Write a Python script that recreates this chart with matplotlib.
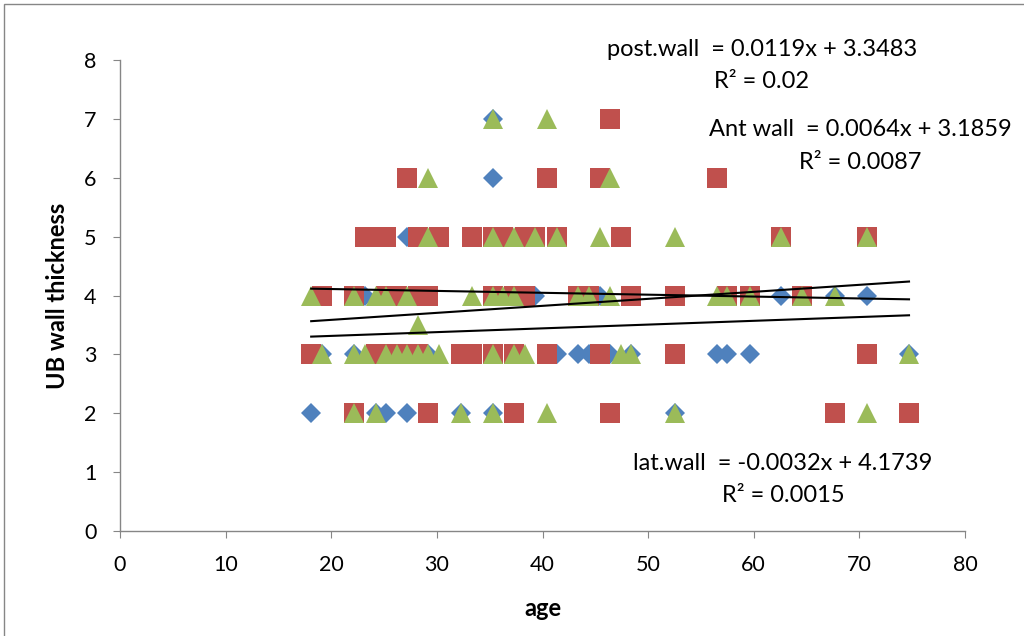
import matplotlib
matplotlib.use("Agg")
import matplotlib.pyplot as plt
from matplotlib.patches import Rectangle
import numpy as np

plt.rcParams['font.family'] = ['Lato', 'DejaVu Sans']

# ---- data ----
lat_x = [18.1, 24.2, 25.2, 27.2, 32.3, 35.3, 52.5,
         19.1, 22.2, 29.2, 41.4, 43.4, 44.4, 46.4, 48.4, 56.5, 57.5, 59.6, 74.7,
         23.2, 39.3, 45.4, 62.6, 67.7, 70.7,
         27.2, 35.3, 35.3]
lat_y = [2, 2, 2, 2, 2, 2, 2,
         3, 3, 3, 3, 3, 3, 3, 3, 3, 3, 3, 3,
         4, 4, 4, 4, 4, 4,
         5, 6, 7]

post_x = [22.2, 29.2, 37.3, 46.4, 67.7, 74.7,
          18.1, 24.2, 25.2, 26.2, 27.2, 28.2, 32.3, 33.3, 35.3, 37.3, 40.4, 45.4, 52.5, 70.7,
          19.1, 22.2, 25.2, 26.2, 28.2, 29.2, 35.3, 37.3, 38.3, 43.4, 44.4, 48.4, 52.5, 57.5, 59.6, 64.6,
          23.2, 24.2, 25.2, 28.2, 30.2, 33.3, 35.3, 36.3, 38.3, 39.3, 41.4, 47.4, 62.6, 70.7,
          27.2, 40.4, 45.4, 56.5,
          46.4]
post_y = [2] * 6 + [3] * 14 + [4] * 16 + [5] * 14 + [6] * 4 + [7]

ant_x = [22.2, 24.2, 32.3, 35.3, 40.4, 52.5, 70.7,
         19.1, 22.2, 23.2, 25.2, 26.2, 27.2, 28.2, 29.2, 30.2, 35.3, 37.3, 38.3, 47.4, 48.4, 74.7,
         28.2,
         18.1, 22.2, 24.2, 25.2, 27.2, 33.3, 35.3, 36.3, 37.3, 43.4, 44.4, 46.4, 56.5, 57.5, 59.6, 64.6, 67.7,
         29.2, 35.3, 37.3, 39.3, 41.4, 45.4, 52.5, 62.6, 70.7,
         29.2, 46.4,
         35.3, 40.4]
ant_y = [2] * 7 + [3] * 15 + [3.5] + [4] * 17 + [5] * 9 + [6] * 2 + [7] * 2

# trend line coefficients (slope, intercept) as given in the chart
post_fit = (0.0119, 3.3483)
ant_fit = (0.0064, 3.1859)
lat_fit = (-0.0032, 4.1739)
fit_range = (18.1, 74.7)

xticks = [0, 10, 20, 30, 40, 50, 60, 70, 80]
yticks = [0, 1, 2, 3, 4, 5, 6, 7, 8]

blue = '#4F81BD'
red = '#C0504D'
green = '#9BBB59'

fig = plt.figure(figsize=(10.24, 6.36), dpi=100)
ax = fig.add_axes([120 / 1024, 1 - 531 / 636, 845 / 1024, 471 / 636])

ax.plot(lat_x, lat_y, linestyle='none', marker='D', ms=10.5, color=blue,
        markeredgewidth=0, zorder=3)
ax.plot(post_x, post_y, linestyle='none', marker='s', ms=14, color=red,
        markeredgewidth=0, zorder=4)
ax.plot(ant_x, ant_y, linestyle='none', marker='^', ms=15, color=green,
        markeredgewidth=0, zorder=5)

xs = np.array(fit_range, dtype=float)
for m, b in (post_fit, ant_fit, lat_fit):
    ax.plot(xs, m * xs + b, color='black', lw=1.5, zorder=6)

ax.set_xlim(0, 80)
ax.set_ylim(0, 8)
ax.set_xticks(xticks)
ax.set_yticks(yticks)
ax.tick_params(labelsize=15.5, direction='out', length=5, color='#868686')
ax.tick_params(axis='y', pad=12)
ax.tick_params(axis='x', pad=12)
for s in ('top', 'right'):
    ax.spines[s].set_visible(False)
for s in ('left', 'bottom'):
    ax.spines[s].set_color('#868686')
    ax.spines[s].set_linewidth(1)

ax.set_xlabel('age', fontsize=17, fontweight='bold', labelpad=16)
ax.set_ylabel('UB wall thickness', fontsize=17, fontweight='bold', labelpad=11)

def px(x, y):
    return x / 1024, 1 - y / 636

fs = 17
fig.text(*px(762, 49), 'post.wall  = 0.0119x + 3.3483', ha='center', va='center', fontsize=fs)
fig.text(*px(762, 82), 'R² = 0.02', ha='center', va='center', fontsize=fs)
fig.text(*px(860, 129), 'Ant wall  = 0.0064x + 3.1859', ha='center', va='center', fontsize=fs)
fig.text(*px(860, 162), 'R² = 0.0087', ha='center', va='center', fontsize=fs)
fig.text(*px(783, 463), 'lat.wall  = -0.0032x + 4.1739', ha='center', va='center', fontsize=fs)
fig.text(*px(783, 495), 'R² = 0.0015', ha='center', va='center', fontsize=fs)

fig.patches.append(Rectangle((4 / 1024, -0.1), 1.1, 1 - 4 / 636 + 0.1,
                             transform=fig.transFigure, fill=False,
                             edgecolor='#868686', lw=1))

fig.savefig('out.png', dpi=100)
